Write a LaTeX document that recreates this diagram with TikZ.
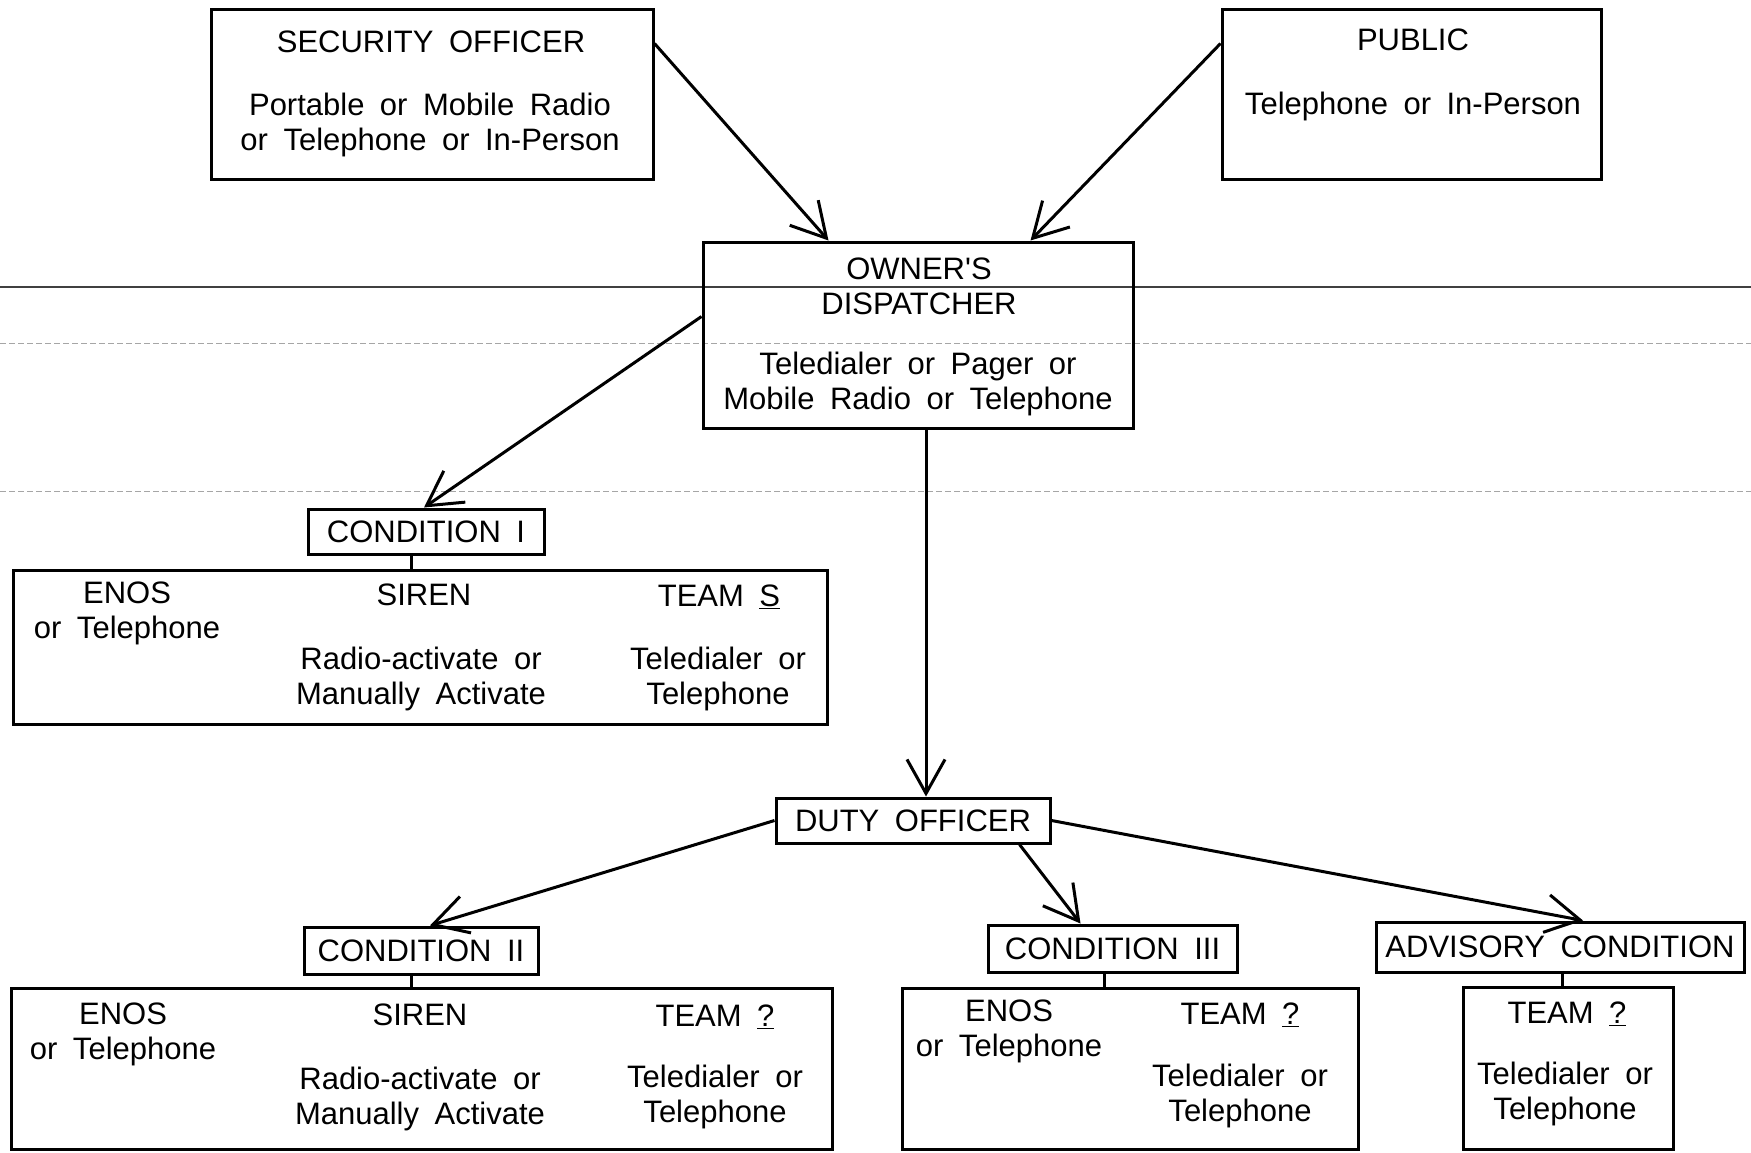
\documentclass[tikz,border=0pt]{standalone}
\usepackage{fontspec}
\setmainfont{Liberation Sans}
\usetikzlibrary{arrows.meta,calc}
\tikzset{
  box/.style={draw, line width=3pt, inner sep=0pt, rectangle},
  txt/.style={inner sep=0pt, align=center, font={\fontsize{31}{35}\selectfont\spaceskip=0.5em plus 0.1em\relax}},
  arr/.style={line width=3pt, -{Straight Barb[length=34pt,width=38pt,line width=3pt]}},
  link/.style={line width=3pt},
  scanline/.style={line width=1.2pt, black!75},
  scandot/.style={line width=1pt, black!35, dash pattern=on 6pt off 3pt},
}
\begin{document}
\begin{tikzpicture}[x=1pt,y=-1pt]
\useasboundingbox (0,0) rectangle (1751,1153);
% faint scan lines across the page
\coordinate (sl1) at (0,287);
\coordinate (sr1) at (1751,287);
\coordinate (sl2) at (0,343);
\coordinate (sr2) at (1751,343);
\coordinate (sl3) at (0,491);
\coordinate (sr3) at (1751,491);
\draw[scanline] (sl1) -- (sr1);
\draw[scandot] (sl2) -- (sr2);
\draw[scandot] (sl3) -- (sr3);

% boxes
\node[box, minimum width=442pt, minimum height=169pt] (sec) at (432,94.5) {};
\node[box, minimum width=379pt, minimum height=169pt] (pub) at (1411.5,94.5) {};
\node[box, minimum width=430pt, minimum height=186pt] (disp) at (918,335) {};
\node[box, txt, minimum width=236pt, minimum height=45pt] (c1) at (426,531.5) {CONDITION I};
\node[box, minimum width=814pt, minimum height=154pt] (c1d) at (420,647) {};
\node[box, txt, minimum width=274pt, minimum height=45pt] (duty) at (913,820.5) {DUTY OFFICER};
\node[box, txt, minimum width=234pt, minimum height=47pt] (c2) at (421,950.5) {CONDITION II};
\node[box, minimum width=821pt, minimum height=161pt] (c2d) at (421.5,1068.5) {};
\node[box, txt, minimum width=249pt, minimum height=47pt] (c3) at (1112.5,948.5) {CONDITION III};
\node[box, minimum width=456pt, minimum height=161pt] (c3d) at (1130,1068.5) {};
\node[box, txt, minimum width=368pt, minimum height=50pt] (adv) at (1560,947) {ADVISORY CONDITION};
\node[box, minimum width=210pt, minimum height=162pt] (advd) at (1568,1068) {};

% texts
\node[txt] (secT) at (431,42) {SECURITY OFFICER};
\node[txt] (secM) at (430,125) {Portable or Mobile Radio\\or Telephone or In-Person};
\node[txt] (pubT) at (1413,40) {PUBLIC};
\node[txt] (pubM) at (1413,106) {Telephone or In-Person};
\node[txt] (dispT) at (919,286.5) {OWNER\textquotesingle S\\DISPATCHER};
\node[txt] (dispM) at (918,384) {Teledialer or Pager or\\Mobile Radio or Telephone};

\node[txt] (c1a) at (127,613.5) {ENOS\\or Telephone};
\node[txt] (c1b) at (424,595) {SIREN};
\node[txt] (c1c) at (421,678.5) {Radio-activate or\\Manually Activate};
\node[txt] (c1e) at (719,597) {TEAM \underline{S}};
\node[txt] (c1f) at (718,678.5) {Teledialer or\\Telephone};

\node[txt] (c2a) at (123,1034) {ENOS\\or Telephone};
\node[txt] (c2b) at (420,1015) {SIREN};
\node[txt] (c2c) at (420,1098.5) {Radio-activate or\\Manually Activate};
\node[txt] (c2e) at (715,1017) {TEAM \underline{?}};
\node[txt] (c2f) at (715,1097) {Teledialer or\\Telephone};

\node[txt] (c3a) at (1009,1031) {ENOS\\or Telephone};
\node[txt] (c3e) at (1240,1015) {TEAM \underline{?}};
\node[txt] (c3f) at (1240,1095.5) {Teledialer or\\Telephone};

\node[txt] (adve) at (1567,1014) {TEAM \underline{?}};
\node[txt] (advf) at (1565,1093.5) {Teledialer or\\Telephone};

% connectors
\draw[arr] ($(sec.north east)+(0,35)$) -- ($(disp.north west)+(127,0)$);
\draw[arr] ($(pub.north west)+(0,35)$) -- ($(disp.north west)+(329,0)$);
\draw[arr] ($(disp.north west)+(0,76)$) -- ($(c1.north)+(-2,0)$);
\draw[arr] ($(disp.south)+(8,0)$) -- ($(duty.north)+(13,0)$);
\draw[link] ($(c1.south)+(-15,0)$) -- ($(c1d.north)+(-9,0)$);
\draw[arr] (duty.west) -- ($(c2.north)+(9,0)$);
\draw[arr] ($(duty.south east)+(-32,0)$) -- ($(c3.north west)+(94,0)$);
\draw[arr] (duty.east) -- ($(adv.north)+(23,0)$);
\draw[link] ($(c2.south)+(-10,0)$) -- ($(c2d.north)+(-10.5,0)$);
\draw[link] ($(c3.south)+(-8,0)$) -- ($(c3d.north)+(-25.5,0)$);
\draw[link] ($(adv.south)+(2,0)$) -- ($(advd.north)+(-6,0)$);
\end{tikzpicture}
\end{document}
